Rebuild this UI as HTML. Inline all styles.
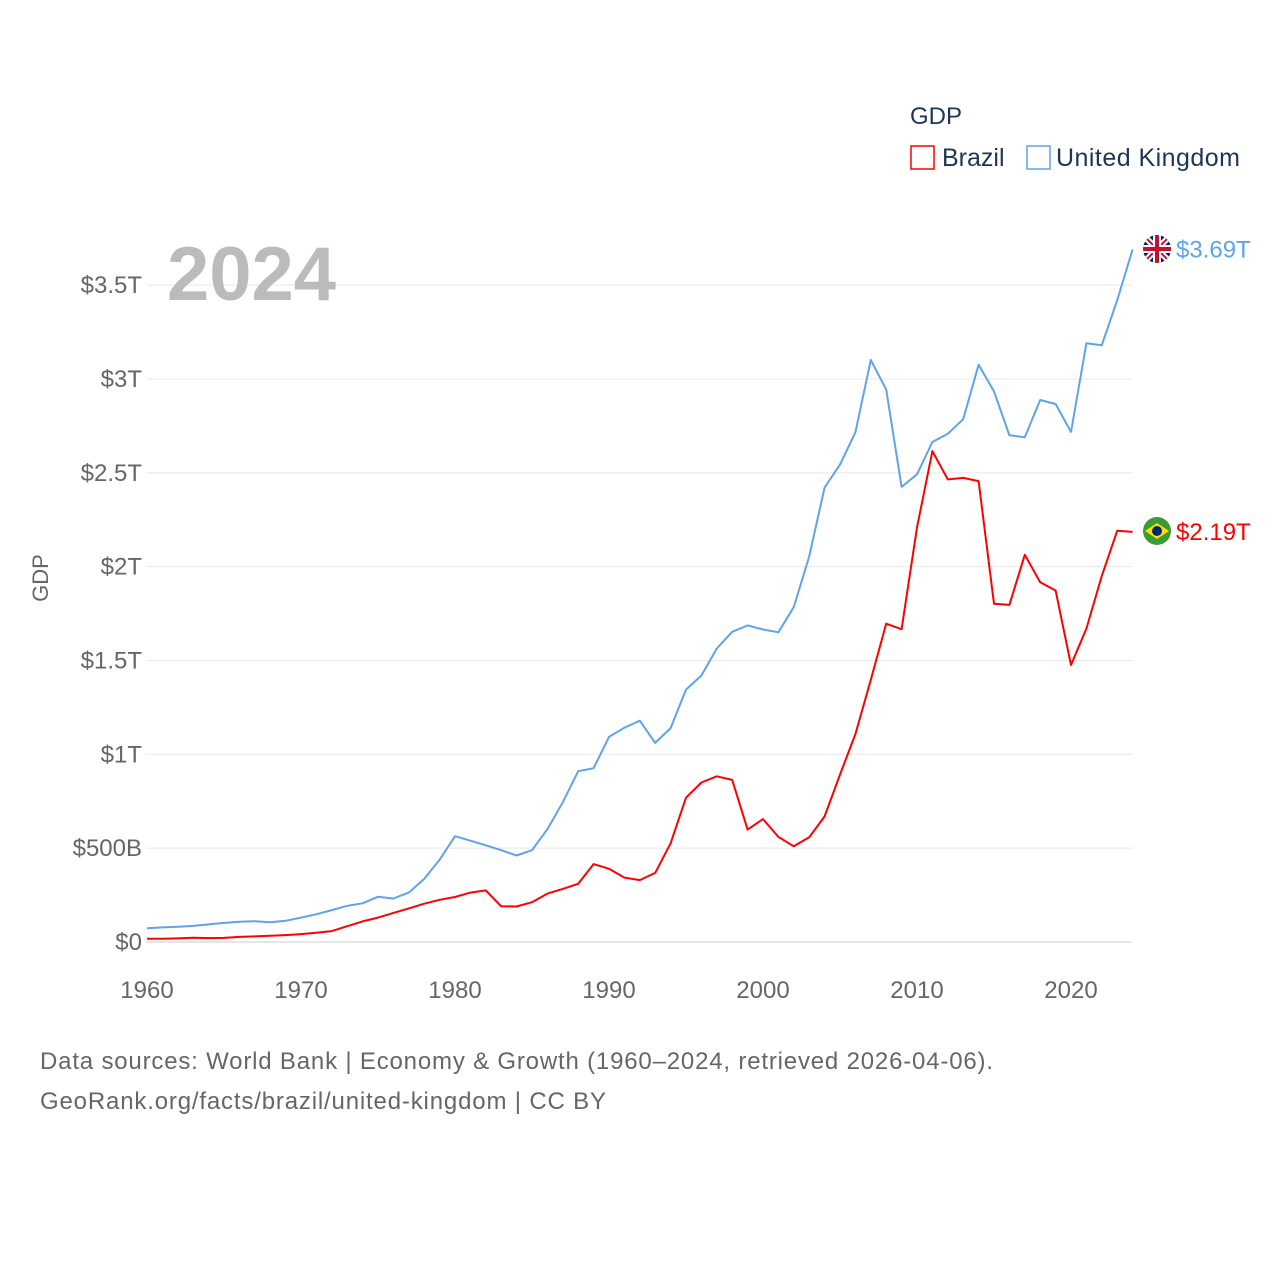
<!DOCTYPE html>
<html><head><meta charset="utf-8"><style>
html,body{margin:0;padding:0;background:#fff;width:1280px;height:1280px;overflow:hidden}
text{font-family:"Liberation Sans",sans-serif}
</style></head><body>
<svg width="1280" height="1280" xmlns="http://www.w3.org/2000/svg">
<g id="grid"></g>
<g id="yticks"></g>
<g id="xticks"></g>
<text x="42" y="578" transform="rotate(-90 42 578)" text-anchor="middle" dominant-baseline="middle" font-size="22" fill="#666">GDP</text>
<text x="167" y="300" font-size="76" font-weight="bold" fill="#bbb">2024</text>
<g id="lines"></g>
<g>
<text x="910" y="124" font-size="24" fill="#1d3557">GDP</text>
<g><rect x="911" y="146" width="23" height="23" fill="none" stroke="#f00" stroke-width="1.5"/><text x="942" y="166" font-size="25" fill="#1d3557">Brazil</text></g>
<g><rect x="1027" y="146" width="23" height="23" fill="none" stroke="#5ea4ea" stroke-width="1.5"/><text x="1056" y="166" font-size="25" fill="#1d3557" textLength="184">United Kingdom</text></g>
</g>
<g>
<clipPath id="cu"><circle cx="1157" cy="249" r="14"/></clipPath>
<g clip-path="url(#cu)"><rect x="1140" y="232" width="34" height="34" fill="#012169"/>
<path d="M1140 232L1174 266M1174 232L1140 266" stroke="#fff" stroke-width="6"/>
<path d="M1140 232L1174 266M1174 232L1140 266" stroke="#c8102e" stroke-width="2"/>
<path d="M1157 232V266M1140 249H1174" stroke="#fff" stroke-width="8"/>
<path d="M1157 232V266M1140 249H1174" stroke="#c8102e" stroke-width="4"/></g></g>
<text id="ukLab" x="1176" y="256" font-size="24" fill="#5ea4ea">$3.69T</text>
<g>
<circle cx="1157" cy="531" r="14" fill="#3d9b35"/><path d="M1145 531L1157 523L1169 531L1157 539Z" fill="#fedf00"/><circle cx="1157" cy="531" r="5" fill="#002776"/></g>
<text id="brLab" x="1176" y="538" font-size="24" fill="#f00">$2.19T</text>
<text x="40" y="1069" font-size="24" fill="#666" textLength="953">Data sources: World Bank | Economy &amp; Growth (1960–2024, retrieved 2026-04-06).</text>
<text x="40" y="1109" font-size="24" fill="#666" textLength="566">GeoRank.org/facts/brazil/united-kingdom | CC BY</text>
</svg>
<script>
const years=[];for(let y=1960;y<=2024;y++)years.push(y);
const ukValues=[.073,.078,.081,.086,.094,.102,.108,.111,.105,.113,.130,.148,.170,.193,.206,.241,.232,.263,.336,.438,.564,.540,.515,.489,.461,.489,.601,.745,.910,.926,1.093,1.142,1.179,1.061,1.140,1.345,1.420,1.564,1.653,1.687,1.665,1.650,1.785,2.054,2.422,2.544,2.716,3.101,2.944,2.425,2.492,2.664,2.708,2.786,3.076,2.934,2.700,2.690,2.888,2.867,2.718,3.190,3.180,3.420,3.690];
const brazilValues=[.017,.017,.019,.023,.021,.022,.027,.030,.033,.037,.042,.049,.058,.084,.110,.130,.155,.179,.204,.225,.240,.263,.275,.190,.189,.212,.258,.283,.310,.415,.390,.343,.330,.368,.526,.769,.850,.883,.864,.599,.655,.560,.510,.558,.669,.892,1.108,1.397,1.696,1.667,2.209,2.616,2.465,2.473,2.456,1.802,1.796,2.063,1.917,1.873,1.476,1.670,1.951,2.191,2.185];
const yTicks=[0,.5,1,1.5,2,2.5,3,3.5];
const yTickLabels=["$0","$500B","$1T","$1.5T","$2T","$2.5T","$3T","$3.5T"];
const xTicks=[1960,1970,1980,1990,2000,2010,2020];
const NS="http://www.w3.org/2000/svg";
const X=y=>147+(y-1960)*15.4;
const Y=v=>942-v*187.67;
function mk(t,a,p){const e=document.createElementNS(NS,t);for(const k in a)e.setAttribute(k,a[k]);p.appendChild(e);return e;}
const g=document.getElementById('grid'),yt=document.getElementById('yticks'),xt=document.getElementById('xticks'),L=document.getElementById('lines');
yTicks.forEach((v,i)=>{
 const l=mk('line',{x1:147,x2:1132,y1:Y(v),y2:Y(v),stroke:v===0?'#ccc':'#e8e8e8','stroke-width':1},g);
 
 
 const t=mk('text',{x:142,y:Y(v)+8,'text-anchor':'end','font-size':24,fill:'#666'},yt);
 t.textContent=yTickLabels[i];
 
 
});
xTicks.forEach(y=>{
 const t=mk('text',{x:X(y),y:998,'text-anchor':'middle','font-size':24,fill:'#666'},xt);
 t.textContent=y;
 
 
});
function line(vals,c,name){
 const d=vals.map((v,i)=>(i?'L':'M')+X(years[i]).toFixed(1)+' '+Y(v).toFixed(1)).join('');
 const p=mk('path',{d:d,fill:'none',stroke:c,'stroke-width':2,'stroke-linejoin':'round'},L);
 
 
}
line(ukValues,'#5ea4ea','uk-line');
line(brazilValues,'#f00','brazil-line');
const n=years.length-1;
document.getElementById('ukLab').setAttribute('y',Y(ukValues[n])+8);
document.getElementById('brLab').setAttribute('y',Y(brazilValues[n])+8);
</script>
</body></html>
